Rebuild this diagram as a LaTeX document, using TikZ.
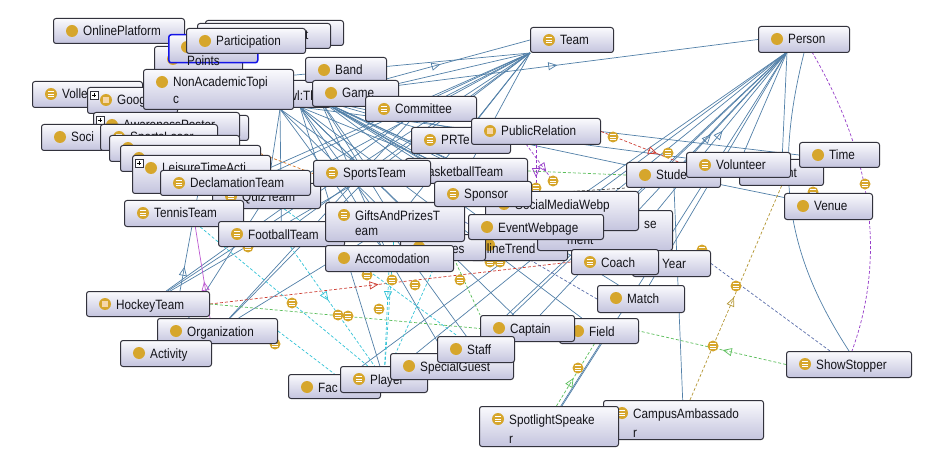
\documentclass[tikz,border=0pt]{standalone}
\usepackage{fontspec}
\setmainfont{Liberation Sans}[FakeStretch=0.87]
\usetikzlibrary{arrows.meta,decorations.markings,calc}
\definecolor{gold}{RGB}{214,166,44}
\definecolor{eblue}{RGB}{82,128,168}
\definecolor{bord}{RGB}{50,50,60}
\definecolor{btop}{RGB}{250,250,253}
\definecolor{bbot}{RGB}{196,196,222}
\definecolor{cyn}{RGB}{50,195,215}
\definecolor{rdd}{RGB}{205,60,50}
\definecolor{grn}{RGB}{90,190,90}
\definecolor{prp}{RGB}{150,60,200}
\definecolor{mag}{RGB}{190,90,210}
\definecolor{olv}{RGB}{180,150,50}
\definecolor{slt}{RGB}{90,110,170}
\definecolor{orng}{RGB}{215,120,40}
\definecolor{drk}{RGB}{70,70,70}
\definecolor{hollow}{RGB}{245,215,170}
\definecolor{selblue}{RGB}{20,20,230}
\definecolor{txt}{RGB}{20,20,25}
\pgfdeclarelayer{edges}
\pgfdeclarelayer{props}
\pgfsetlayers{edges,props,main}
\tikzset{
 box/.style={draw=bord, line width=1pt, rounded corners=2.5pt, top color=btop, bottom color=bbot, inner sep=0pt},
 sel/.style={draw=selblue, line width=1.5pt},
 lbl/.style={anchor=base west, inner sep=0pt, font=\fontsize{13.5}{16}\selectfont, text=txt},
 pics/ip/.style={code={\fill[gold] (0,0) circle (6pt);}},
 pics/ie/.style={code={\fill[gold] (0,0) circle (6pt); \draw[white,line width=0.9pt] (-3.2,-2.6)--(3.2,-2.6) (-3.2,0)--(3.2,0) (-3.2,2.6)--(3.2,2.6);}},
 pics/ih/.style={code={\fill[gold] (0,0) circle (6pt); \fill[hollow] (-3,-3) rectangle (3,3);}},
 pics/sp/.style={code={\fill[gold] (0,0) circle (5.5pt); \draw[white,line width=0.8pt] (-2.8,-2.2)--(2.8,-2.2) (-2.8,0)--(2.8,0) (-2.8,2.2)--(2.8,2.2);}},
 pics/plus/.style={code={\draw[bord,fill=white,line width=0.5pt] (0,0) rectangle (8,8); \draw[black,line width=0.6pt] (2,4)--(6,4) (4,2)--(4,6);}},
 eb/.style={draw=eblue, line width=0.7pt},
 dsh/.style={dash pattern=on 3pt off 2pt, line width=0.7pt},
 tri/.style={postaction={decorate,decoration={markings,mark=at position #1 with {\arrow{Triangle[open,length=9pt,width=8pt]}}}}},
}
\newcommand{\bx}[8]{%
 \node[box,#6,minimum width=#4pt,minimum height=#5pt,anchor=north west] (#1) at (#2,#3) {};
 \pic at ({#2+19},{#3+13}) {#7};
 \node[lbl] (#1t) at ({#2+30},{#3+18}) {#8};
}
\begin{document}
\begin{tikzpicture}[x=1pt,y=-1pt]
\useasboundingbox (0,0) rectangle (939,449);
\begin{pgfonlayer}{edges}
\fill[white] (0,0) rectangle (939,449);
\end{pgfonlayer}
% ---------- classes ----------
\bx{onl}{53}{18}{131}{25}{}{ip}{OnlinePlatform}
\bx{hidb}{205}{20}{138}{25}{}{ip}{}
\bx{hida}{197}{23}{133}{25}{}{ip}{}
\node[lbl] (tfrag) at (305,40) {t};
\bx{ptsb}{154}{46}{88}{30}{}{ip}{}
\bx{pts}{168}{34}{89}{28}{sel}{ip}{}
\node[lbl] (ptst) at (187,66) {Points};
\bx{part}{186}{28}{119}{25}{}{ip}{Participation}
\bx{thing}{250}{80}{80}{27}{}{ip}{}
\node[lbl] (thingl) at (282,101) {owl:Thing};
\bx{voll}{32}{81}{110}{26}{}{ie}{Volle}
\bx{goog}{87}{87}{90}{26}{}{ih}{Goog}
\pic at (90,91) {plus};
\bx{nat}{143}{69}{150}{40}{}{ip}{NonAcademicTopi}
\node[lbl] (nat2) at (173,104) {c};
\bx{awpb}{100}{115}{148}{25}{}{ip}{}
\bx{awp}{93}{112}{146}{26}{}{ip}{AwarenessPoster}
\pic at (96,116) {plus};
\bx{soci}{41}{124}{80}{26}{}{ip}{Soci}
\bx{slos}{100}{124}{117}{26}{}{ie}{SportsLoser}
\bx{lbx}{109}{135}{130}{26}{}{ip}{}
\bx{lby}{120}{145}{140}{26}{}{ip}{}
\bx{leis}{132}{155}{138}{38}{}{ip}{LeisureTimeActi}
\pic at (135,159) {plus};
\bx{quiz}{212}{183}{108}{25}{}{ie}{QuizTeam}
\bx{decl}{160}{170}{150}{25}{}{ie}{DeclamationTeam}
\bx{tenn}{124}{200}{119}{26}{}{ie}{TennisTeam}
\bx{foot}{218}{221}{126}{25}{}{ie}{FootballTeam}
\bx{band}{305}{57}{81}{25}{}{ip}{Band}
\bx{game}{312}{80}{86}{26}{}{ip}{Game}
\bx{team}{530}{27}{83}{25}{}{ie}{Team}
\bx{pers}{758}{26}{91}{26}{}{ip}{Person}
\bx{comm}{365}{96}{111}{25}{}{ie}{Committee}
\bx{prt}{411}{127}{99}{26}{}{ie}{PRTe}
\bx{pubr}{471}{118}{129}{26}{}{ih}{PublicRelation}
\bx{bask}{405}{158}{122}{25}{}{ie}{}
\node[lbl] (baskl) at (420,177) {BasketballTeam};
\bx{spt}{313}{160}{117}{26}{}{ie}{SportsTeam}
\bx{stud}{626}{162}{94}{25}{}{ip}{Stude}
\bx{hidnt}{739}{159}{84}{26}{}{ip}{}
\node[lbl] (hidntl) at (787,178) {nt};
\bx{vol}{686}{152}{104}{25}{}{ie}{Volunteer}
\bx{time}{799}{142}{80}{25}{}{ip}{Time}
\bx{venu}{784}{193}{88}{26}{}{ip}{Venue}
\bx{onlt}{470}{232}{97}{28}{}{ip}{}
\node[lbl] (onltl) at (471,253) {OnlineTrend};
\bx{esb}{400}{234}{85}{26}{}{ip}{}
\node[lbl] (esbl) at (452,253) {es};
\bx{gift}{325}{202}{139}{39}{}{ie}{GiftsAndPrizesT}
\node[lbl] (gift2) at (355,235) {eam};
\bx{acc}{325}{245}{128}{26}{}{ip}{Accomodation}
\bx{semt}{537}{210}{135}{40}{}{ip}{}
\node[lbl] (semt1) at (644,228) {se};
\node[lbl] (semt2) at (567,244) {ment};
\bx{smw}{485}{191}{153}{39}{}{ip}{SocialMediaWebp}
\bx{evw}{468}{214}{135}{25}{}{ip}{EventWebpage}
\bx{spon}{434}{181}{97}{25}{}{ie}{Sponsor}
\bx{year}{632}{250}{78}{26}{}{ip}{Year}
\bx{coach}{571}{249}{87}{25}{}{ie}{Coach}
\bx{match}{597}{285}{87}{27}{}{ip}{Match}
\bx{hockey}{86}{291}{123}{25}{}{ih}{HockeyTeam}
\bx{org}{157}{318}{120}{25}{}{ip}{Organization}
\bx{act}{120}{340}{91}{26}{}{ip}{Activity}
\bx{field}{559}{318}{79}{25}{}{ip}{Field}
\bx{capt}{480}{315}{94}{26}{}{ip}{Captain}
\bx{fac}{288}{374}{92}{24}{}{ip}{Fac}
\bx{player}{340}{366}{87}{26}{}{ie}{Player}
\bx{spg}{390}{353}{123}{26}{}{ip}{SpecialGuest}
\bx{staff}{437}{336}{77}{26}{}{ip}{Staff}
\bx{campus}{603}{400}{160}{39}{}{ie}{CampusAmbassado}
\node[lbl] (campus2) at (633,437) {r};
\bx{spot}{479}{406}{139}{40}{}{ie}{SpotlightSpeake}
\node[lbl] (spot2) at (509,443) {r};
\bx{show}{786}{351}{125}{26}{}{ie}{ShowStopper}
% ---------- connectors ----------
\begin{pgfonlayer}{edges}
\coordinate (ph) at (787,52);
\coordinate (pc1) at (812,52);
\coordinate (sc1) at (852,351);
\coordinate (sc2) at (830,351);
\coordinate (ca1) at (690,400);
\coordinate (pr2) at (526,144);
\coordinate (hk1) at (180,291);
\coordinate (th1) at (300,107);
\coordinate (th2) at (320,100);
\coordinate (na1) at (280,109);
\coordinate (q1) at (536,188);
\coordinate (q2) at (553,181);
\foreach \x in {comm,prt,spt,bask,spon,gift,acc,onlt,smw,evw,stud,coach,year,match} \draw[eb] (th2) -- (\x);
\foreach \x in {capt,field,staff,spg,player,semt,vol,esb} \draw[eb] (th1) -- (\x);
\foreach \x in {spt,gift,foot,quiz,acc} \draw[eb] (na1) -- (\x);
\draw[eb,tri=0.55] (thing.east) -- (team.west);
\draw[eb,tri=0.53] (thing.east) -- (pers.west);
\foreach \x in {game,comm,spt,prt,gift,quiz,decl,tenn,foot,hockey,voll,bask} \draw[eb] (\x) -- (team.south west);
\foreach \x in {vol,hidnt,capt,staff,spg,player,fac,spot,evw,match} \draw[eb] (ph) -- (\x);
\draw[eb,tri=0.25] (stud) -- (ph);
\draw[eb,tri=0.6] (coach) -- (ph);
\draw[eb] (pers.south) .. controls (772,180) and (790,260) .. (show.north);
\draw[eb] (pubr.east) -- (time.west);
\draw[eb] (stud) -- (venu);
\draw[eb] (stud) -- (campus);
\draw[eb] (field.275) -- (spot.60);
\draw[eb] (org) -- (gift);
\draw[eb] (org) -- (spt);
\draw[eb] (org) -- (comm);
\draw[eb] (hockey) -- (spt);
\draw[eb] (hockey) -- (comm);
\draw[eb] (act) -- (quiz);
\draw[eb,tri=0.25] (hk1) -- (leis);
\draw[mag,line width=0.7pt,tri=0.4] (org.120) -- (tenn.310);
\draw[rdd,dsh,tri=0.66] (pubr.east) -- (vol.west);
\draw[rdd,dsh,tri=0.467] (hockey.east) -- (coach.west);
\draw[prp,dsh] (pc1) .. controls (875,160) and (885,260) .. (sc1);
\draw[grn,dsh,tri=0.43] (show.west) -- (field.east);
\draw[olv,dsh,tri=0.48] (ca1) -- (hidnt.south);
\draw[slt,dsh] (sc2) -- (year.east);
\draw[slt,dsh,tri=0.8] (smw) -- (year);
\draw[slt,dsh] (gift.east) -- (match.west);
\draw[grn,dsh,tri=0.45] (spot.70) -- (field.250);
\draw[grn,dsh] (hockey.east) -- (capt.west);
\draw[grn,dsh] (acc.east) -- (capt.north west);
\draw[grn,dsh] (bask.east) -- (stud.west);
\draw[drk,dsh] (spon.east) -- (stud.south west);
\draw[orng,dsh] (slos.east) -- (spt.west);
\draw[prp,dsh,tri=0.75] (pubr.south) -- (q1);
\draw[prp,dsh,tri=0.75] (pr2) -- (q2);
\draw[cyn,dsh,tri=0.45] (foot) -- (player);
\draw[cyn,dsh] (gift) -- (player);
\draw[cyn,dsh,tri=0.3] (acc) -- (player);
\draw[cyn,dsh] (tenn) -- (player);
\draw[cyn,dsh] (esb) -- (player);
\draw[cyn,dsh] (org.east) -- (fac.north);
\draw[cyn,dsh] (quiz) -- (staff);
\end{pgfonlayer}
% ---------- property markers ----------
\begin{pgfonlayer}{props}
\foreach \p in {(613,137),(668,153),(553,181),(536,188),(367,275),(392,280),(415,285),(460,280),(338,315),(348,316),(379,309),(578,368),(292,303),(275,344),(736,286),(713,346),(865,184),(813,192),(702,250),(248,247),(490,262),(500,262)}
  \pic at \p {sp};
\end{pgfonlayer}
\end{tikzpicture}
\end{document}
